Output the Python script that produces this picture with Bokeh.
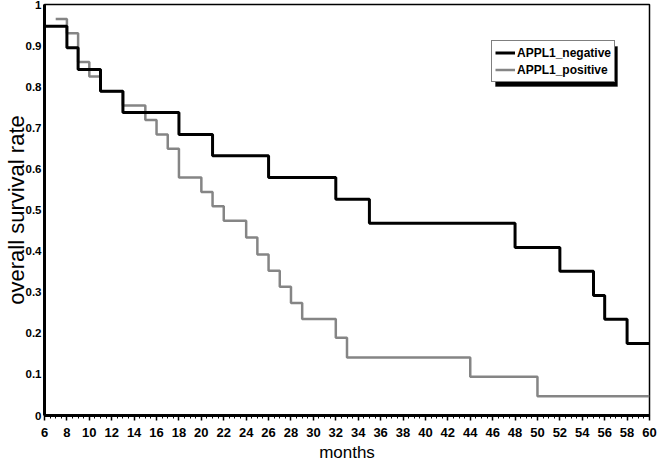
from bokeh.plotting import figure
from bokeh.models import (Legend, LegendItem, FixedTicker, SingleIntervalTicker,
                          Range1d, BoxAnnotation)
from bokeh.embed import file_html
from bokeh.resources import INLINE

# --- data ---
neg_months = [6, 8, 9, 11, 13, 18, 21, 26, 32, 35, 48, 52, 55, 56, 58, 60]
neg_surv = [0.947, 0.895, 0.842, 0.789, 0.737, 0.684, 0.632, 0.579, 0.526,
            0.468, 0.409, 0.351, 0.292, 0.234, 0.175, 0.175]

pos_months = [7, 8, 9, 10, 11, 13, 15, 16, 17, 18, 20, 21, 22, 24, 25, 26,
              27, 28, 29, 32, 33, 44, 50, 60]
pos_surv = [0.965, 0.930, 0.860, 0.825, 0.789, 0.754, 0.719, 0.684, 0.649,
            0.579, 0.544, 0.509, 0.474, 0.433, 0.392, 0.352, 0.313, 0.274,
            0.235, 0.189, 0.141, 0.094, 0.047, 0.047]

series_labels = ["APPL1_negative", "APPL1_positive"]
y_ticks = [0, 0.1, 0.2, 0.3, 0.4, 0.5, 0.6, 0.7, 0.8, 0.9, 1]
y_tick_labels = ["0", "0.1", "0.2", "0.3", "0.4", "0.5", "0.6", "0.7", "0.8", "0.9", "1"]
x_title = "months"
y_title = "overall survival rate"

SANS = "Liberation Sans"

p = figure(width=658, height=468, x_range=Range1d(6, 60), y_range=Range1d(0, 1),
           output_backend="svg", toolbar_location=None,
           min_border_left=30, min_border_right=9, min_border_top=4,
           min_border_bottom=53)
p.grid.visible = False
p.outline_line_color = "black"
p.outline_line_width = 1.5
p.background_fill_color = "white"
p.border_fill_color = "white"

r_pos = p.step(pos_months, pos_surv, mode="after", line_color="#858585", line_width=2.5)
r_neg = p.step(neg_months, neg_surv, mode="after", line_color="black", line_width=3)

# x axis
xa = p.xaxis[0]
xa.ticker = SingleIntervalTicker(interval=2, num_minor_ticks=4)
xa.axis_line_width = 3
xa.axis_line_color = "black"
xa.major_tick_out = 5
xa.major_tick_in = 0
xa.minor_tick_out = 3
xa.minor_tick_in = 0
xa.major_tick_line_width = 1.5
xa.minor_tick_line_width = 1
xa.major_tick_line_color = "black"
xa.minor_tick_line_color = "black"
xa.major_label_text_font = SANS
xa.major_label_text_font_style = "bold"
xa.major_label_text_font_size = "13px"
xa.major_label_text_color = "black"
xa.major_label_standoff = 7
xa.axis_label = x_title
xa.axis_label_text_font = SANS
xa.axis_label_text_font_style = "normal"
xa.axis_label_text_font_size = "17px"
xa.axis_label_text_color = "black"
xa.axis_label_standoff = 3

# y axis
ya = p.yaxis[0]
ya.ticker = FixedTicker(ticks=y_ticks)
ya.major_label_overrides = dict(zip(y_ticks, y_tick_labels))
ya.axis_line_width = 3
ya.axis_line_color = "black"
ya.major_tick_out = 0
ya.major_tick_in = 0
ya.minor_tick_out = 0
ya.minor_tick_in = 0
ya.major_label_text_font = SANS
ya.major_label_text_font_style = "bold"
ya.major_label_text_font_size = "11.5px"
ya.major_label_text_color = "black"
ya.major_label_standoff = 3
ya.axis_label = y_title
ya.axis_label_text_font = SANS
ya.axis_label_text_font_style = "normal"
ya.axis_label_text_font_size = "22px"
ya.axis_label_text_color = "black"
ya.axis_label_standoff = -6

legend_loc = (447, 333)
legend_w, legend_h = 122, 40

shadow = BoxAnnotation(left=legend_loc[0] + 4, right=legend_loc[0] + legend_w + 4,
                       bottom=legend_loc[1] - 4, top=legend_loc[1] + legend_h - 4,
                       left_units="screen", right_units="screen",
                       bottom_units="screen", top_units="screen",
                       fill_color="black", fill_alpha=1, line_color="black",
                       editable=False)
p.add_layout(shadow)

lg = Legend(items=[LegendItem(label=series_labels[0], renderers=[r_neg]),
                   LegendItem(label=series_labels[1], renderers=[r_pos])],
            location=legend_loc)
lg.border_line_color = "black"
lg.border_line_width = 1.5
lg.background_fill_color = "white"
lg.background_fill_alpha = 1
lg.label_text_font = SANS
lg.label_text_font_style = "bold"
lg.label_text_font_size = "12px"
lg.label_text_color = "black"
lg.glyph_width = 20
lg.glyph_height = 17
lg.label_height = 17
lg.label_standoff = 2
lg.spacing = 0
lg.padding = 3
lg.margin = 0
p.add_layout(lg)

open("out.html", "w").write(file_html(p, INLINE))
